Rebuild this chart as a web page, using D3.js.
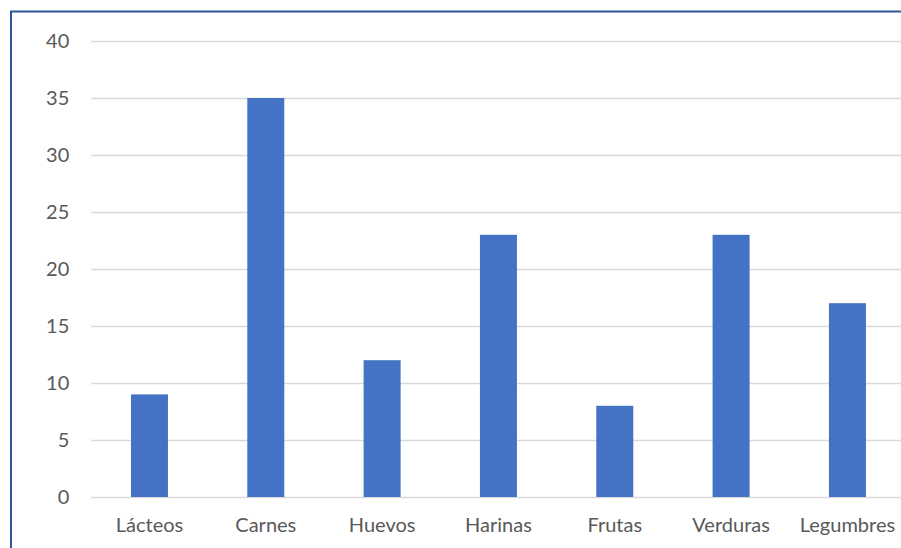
<!DOCTYPE html>
<html>
<head>
<meta charset="utf-8">
<script src="https://cdn.jsdelivr.net/npm/d3@7"></script>
<style>
  html, body { margin: 0; padding: 0; background: #fff; }
  svg { display: block; }
  text { font-family: "Lato", "Liberation Sans", sans-serif; fill: #595959; }
</style>
</head>
<body>
<svg id="chart" width="901" height="548"></svg>
<script>
// Food groups and their counts
const categories = ["Lácteos", "Carnes", "Huevos", "Harinas", "Frutas", "Verduras", "Legumbres"];
const values = [9, 35, 12, 23, 8, 23, 17];
const yTicks = [0, 5, 10, 15, 20, 25, 30, 35, 40];

const svg = d3.select("#chart");
const W = 901, H = 548;
const plot = { left: 91.3, right: 905.6, top: 41, bottom: 497 };

// Chart frame (extends past the visible area on right and bottom)
svg.append("rect")
  .attr("x", 11).attr("y", 11.5)
  .attr("width", W + 20).attr("height", H + 20)
  .attr("fill", "#fff")
  .attr("stroke", "#2F5597").attr("stroke-width", 2);

const x = d3.scaleBand()
  .domain(categories)
  .range([plot.left, plot.right])
  .paddingInner(0.682)
  .paddingOuter(0.341);

const y = d3.scaleLinear().domain([0, 40]).range([plot.bottom, plot.top]);

// Horizontal gridlines and value labels
const yAxis = d3.axisLeft(y).tickValues(yTicks).tickSize(-(plot.right - plot.left)).tickPadding(22);
const gy = svg.append("g").attr("transform", `translate(${plot.left},0)`).call(yAxis);
gy.select(".domain").remove();
gy.selectAll(".tick line").attr("stroke", "#d9d9d9").attr("stroke-width", 1.5);
gy.selectAll(".tick text").attr("font-size", 20).attr("fill", "#595959")
  .style("font-family", "Lato, 'Liberation Sans', sans-serif");

// Bars
svg.append("g").selectAll("rect")
  .data(values)
  .join("rect")
  .attr("x", (d, i) => x(categories[i]))
  .attr("y", d => y(d))
  .attr("width", x.bandwidth())
  .attr("height", d => y(0) - y(d))
  .attr("fill", "#4472C4");

// Category labels
const xAxis = d3.axisBottom(x).tickSize(0).tickPadding(21);
const gx = svg.append("g").attr("transform", `translate(0,${plot.bottom})`).call(xAxis);
gx.select(".domain").remove();
gx.selectAll(".tick text").attr("font-size", 20).attr("fill", "#595959")
  .style("font-family", "Lato, 'Liberation Sans', sans-serif");
</script>
</body>
</html>
